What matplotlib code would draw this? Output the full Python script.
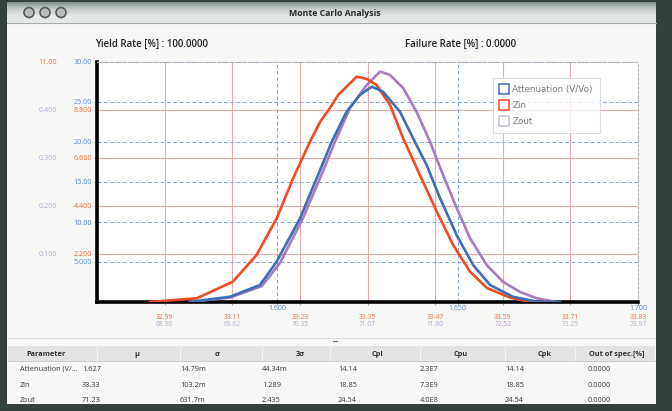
import matplotlib
matplotlib.use("Agg")
import matplotlib.pyplot as plt
import numpy as np
from matplotlib.patches import Rectangle, Circle
from matplotlib.lines import Line2D

plt.rcParams['font.family'] = ['Open Sans', 'DejaVu Sans']

# ---------------- data ----------------
series_names = ["Attenuation (V/Vo)", "Zin", "Zout"]

# Attenuation (V/Vo) distribution
att_x = [1.5758, 1.5869, 1.5952, 1.5998, 1.6063, 1.6109, 1.6151, 1.6192, 1.6229,
         1.6262, 1.6293, 1.6340, 1.6376, 1.6414, 1.6451, 1.6497, 1.6543, 1.6590,
         1.6653, 1.6719, 1.6784]
att_y = [0.0, 0.66, 2.12, 5.04, 10.46, 15.46, 20.04, 23.79, 25.88, 26.91, 26.29,
         23.79, 20.5, 17.12, 13.0, 8.38, 4.62, 2.12, 0.66, 0.04, 0.0]

# Zin distribution
zin_x = [32.964, 33.047, 33.111, 33.153, 33.189, 33.218, 33.248, 33.266, 33.283,
         33.298, 33.331, 33.349, 33.366, 33.390, 33.413, 33.443, 33.473, 33.502,
         33.532, 33.562, 33.603, 33.638, 33.674]
zin_y = [0.0, 0.17, 0.93, 2.15, 3.84, 5.67, 7.35, 8.26, 8.88, 9.49, 10.33, 10.22,
         9.95, 9.03, 7.52, 5.82, 4.14, 2.61, 1.39, 0.64, 0.20, 0.01, 0.0]

# Zout distribution
zout_x = [69.167, 69.596, 69.939, 70.132, 70.379, 70.561, 70.722, 70.882, 71.061,
          71.204, 71.311, 71.451, 71.597, 71.740, 71.879, 72.026, 72.169, 72.348,
          72.523, 72.705, 72.884, 73.098]
zout_y = [0.0, 0.0094, 0.0333, 0.0813, 0.175, 0.258, 0.334, 0.404, 0.452, 0.480,
          0.473, 0.446, 0.396, 0.334, 0.265, 0.196, 0.133, 0.077, 0.042, 0.021,
          0.0077, 0.0]

# axis scales
att_xlim, att_ylim = (1.550, 1.700), (0, 30)
zin_xlim, zin_ylim = (32.87, 33.83), (0, 11.0)
zout_xlim, zout_ylim = (68.17, 73.97), (0, 0.5)

att_xticks = [1.600, 1.650, 1.700]
att_xlabels = ["1.600", "1.650", "1.700"]
att_yticks = [5, 10, 15, 20, 25, 30]
att_ylabels = ["5.000", "10.00", "15.00", "20.00", "25.00", "30.00"]

zin_xticks = [32.99, 33.11, 33.23, 33.35, 33.47, 33.59, 33.71, 33.83]
zin_yticks = [2.2, 4.4, 6.6, 8.8]
zin_ylabels = ["2.200", "4.400", "6.600", "8.800"]
zin_ytop_label = "11.00"

zout_xticks = [68.895, 69.62, 70.345, 71.07, 71.795, 72.52, 73.245, 73.97]
zout_xlabels = ["68.90", "69.62", "70.35", "71.07", "71.80", "72.52", "73.25", "73.97"]
zout_yticks = [0.1, 0.2, 0.3, 0.4]
zout_ylabels = ["0.100", "0.200", "0.300", "0.400"]

yield_rate = "100.0000"
failure_rate = "0.0000"

# statistics table
table_header = ["Parameter", "\u03bc", "\u03c3", "3\u03c3", "Cpl", "Cpu", "Cpk", "Out of spec.[%]"]
param_col = ["Attenuation (V/...", "Zin", "Zout"]
mu_col = ["1.627", "33.33", "71.23"]
sigma_col = ["14.79m", "103.2m", "631.7m"]
three_sigma_col = ["44.34m", "1.289", "2.435"]
cpl_col = ["14.14", "18.85", "24.54"]
cpu_col = ["2.3E7", "7.3E9", "4.0E8"]
cpk_col = ["14.14", "18.85", "24.54"]
oos_col = ["0.0000", "0.0000", "0.0000"]

# ---------------- styling ----------------
C_ATT, C_ZIN, C_ZOUT = "#3d6db5", "#f04b23", "#a77bbd"
T_ATT, T_ZIN, T_ZOUT = "#5b87c9", "#f26a45", "#b9a6d0"

W, H = 672, 411
fig = plt.figure(figsize=(W / 100, H / 100), dpi=100)
fig.patch.set_facecolor("#34413f")

# window chrome, drawn in pixel units
bg = fig.add_axes([0, 0, 1, 1], zorder=-5)
bg.set_xlim(0, W)
bg.set_ylim(H, 0)
bg.axis("off")

bg.add_patch(Rectangle((7, 2), 649, 402, color="#f7f7f6", lw=0))
grad = np.linspace(0, 1, 50).reshape(-1, 1)
bg.imshow(grad, extent=(7, 656, 23, 2), cmap=matplotlib.colors.LinearSegmentedColormap.from_list(
    "tb", ["#7f928d", "#c9cfcc", "#e2e5e3", "#e9ebea"]), aspect="auto", zorder=1)
bg.plot([7, 656], [23, 23], color="#a9adab", lw=0.8, zorder=2)
for cx in (29, 45, 61):
    bg.add_patch(Circle((cx, 12.5), 5, facecolor="#b9bebc", edgecolor="#55605d", lw=1.2, zorder=3))
bg.text(335, 13, "Monte Carlo Analysis", ha="center", va="center", fontsize=6.3,
        fontweight="bold", color="#2a2a2a", zorder=3)

bg.text(95, 44, "Yield Rate [%] : " + yield_rate, ha="left", va="center",
        fontsize=7, fontweight="semibold", color="#222222")
bg.text(405, 44, "Failure Rate [%] : " + failure_rate, ha="left", va="center",
        fontsize=7, fontweight="semibold", color="#222222")

# table
bg.plot([8, 655], [338, 338], color="#d8d8d8", lw=0.6)
bg.plot([333, 337], [341, 341], color="#777777", lw=0.8)
bg.add_patch(Rectangle((8, 346), 647, 15, facecolor="#e3e3e3", edgecolor="none"))
bg.plot([8, 655], [361, 361], color="#c4c4c4", lw=0.6)
for sx in (97, 180, 262, 330, 420, 505, 575):
    bg.plot([sx, sx], [347, 360], color="#f4f4f4", lw=0.8)
header_x = [46, 137, 217, 300, 378, 461, 545, 617]
for hx, h in zip(header_x, table_header):
    bg.text(hx, 354, h, ha="center", va="center", fontsize=5.3, fontweight="bold",
            color="#333333")
col_x = [20, 82, 180, 262, 338, 420, 505, 588]
cols = [param_col, mu_col, sigma_col, three_sigma_col, cpl_col, cpu_col, cpk_col, oos_col]
row_y = [369, 385, 400]
for cx, col in zip(col_x, cols):
    for ry, val in zip(row_y, col):
        bg.text(cx, ry, val, ha="left", va="center", fontsize=5.3, color="#3a3a3a")

# ---------------- plot axes ----------------
rect = [97 / W, 1 - 302 / H, 541 / W, 240 / H]
ax_p = fig.add_axes(rect, zorder=1)
ax_r = fig.add_axes(rect, zorder=2, facecolor="none")
ax_b = fig.add_axes(rect, zorder=3, facecolor="none")
ax_p.set_facecolor("white")

for a in (ax_p, ax_r):
    for s in a.spines.values():
        s.set_visible(False)

ax_p.set_xlim(*zout_xlim)
ax_p.set_ylim(*zout_ylim)
ax_r.set_xlim(*zin_xlim)
ax_r.set_ylim(*zin_ylim)

# grids
ax_r.set_xticks(zin_xticks)
ax_r.set_xticklabels([f"{v:.2f}" for v in zin_xticks])
ax_r.set_yticks(zin_yticks)
ax_r.set_yticklabels(zin_ylabels)
ax_r.grid(True, color="#eeaaaa", lw=0.8, ls="-")
ax_r.tick_params(axis="x", colors="#9a9a9a", labelcolor=T_ZIN, labelsize=4.8,
                 length=2.5, width=0.6, pad=6.0)
ax_r.tick_params(axis="y", colors="#c0c0c0", labelcolor=T_ZIN, labelsize=5.2,
                 length=2, width=0.6, pad=1.5)

ax_p.set_xticks(zout_xticks)
ax_p.set_xticklabels(zout_xlabels)
ax_p.set_yticks(zout_yticks)
ax_p.set_yticklabels(zout_ylabels)
ax_p.tick_params(axis="x", length=0, labelcolor=T_ZOUT, labelsize=4.8, pad=14.0)
ax_p.tick_params(axis="y", length=0, labelcolor=T_ZOUT, labelsize=5.2, pad=29)

# curves, each in its own axis units, drawn on the top layer
ax_b.plot(zout_x, zout_y, color=C_ZOUT, lw=1.9, transform=ax_p.transData,
          solid_joinstyle="round", zorder=4)
ax_b.plot(zin_x, zin_y, color=C_ZIN, lw=1.9, transform=ax_r.transData,
          solid_joinstyle="round", zorder=5)
ax_b.plot(att_x, att_y, color=C_ATT, lw=1.9, solid_joinstyle="round", zorder=6)

ax_b.set_xlim(*att_xlim)
ax_b.set_ylim(*att_ylim)
ax_b.set_xticks(att_xticks)
ax_b.set_xticklabels(att_xlabels)
ax_b.set_yticks(att_yticks)
ax_b.set_yticklabels(att_ylabels)
ax_b.tick_params(axis="x", colors="#9a9a9a", labelcolor=T_ATT, labelsize=5.0,
                 length=2, width=0.6, pad=0.5)
ax_b.tick_params(axis="y", colors="#9a9a9a", labelcolor=T_ATT, labelsize=5.2,
                 length=2, width=0.6, pad=1.5)
ax_b.grid(True, color="#86a9da", lw=0.7, ls=(0, (4, 2.5)))
ax_b.set_axisbelow(True)
for side in ("left", "bottom"):
    ax_b.spines[side].set_color("black")
    ax_b.spines[side].set_linewidth(2.6)
for side in ("top", "right"):
    ax_b.spines[side].set_color("#b8b8b8")
    ax_b.spines[side].set_linewidth(0.8)
    ax_b.spines[side].set_linestyle((0, (2, 2)))

# top label of the Zin scale sits in the outer column
ax_r.annotate(zin_ytop_label, xy=(0, zin_ylim[1]), xycoords=("axes fraction", "data"),
              xytext=(-29, 0), textcoords="offset points", ha="right", va="center",
              fontsize=5.2, color=T_ZIN)

handles = [Line2D([], [], ls="none", marker="s", ms=7, mfc="white", mec=c, mew=1.1)
           for c in (C_ATT, C_ZIN, "#c9bdd6")]
leg = ax_b.legend(handles, series_names, loc="upper left", bbox_to_anchor=(0.732, 0.935),
                  prop={"family": "DejaVu Sans", "size": 6.3}, frameon=True,
                  fancybox=False, labelspacing=0.85, handletextpad=0.4, borderpad=0.8,
                  handlelength=1.0, borderaxespad=0)
leg.get_frame().set_edgecolor("#cfd6da")
leg.get_frame().set_linewidth(0.8)
for t in leg.get_texts():
    t.set_color("#7a7a7a")

fig.savefig("out.png", dpi=100, facecolor=fig.get_facecolor())
